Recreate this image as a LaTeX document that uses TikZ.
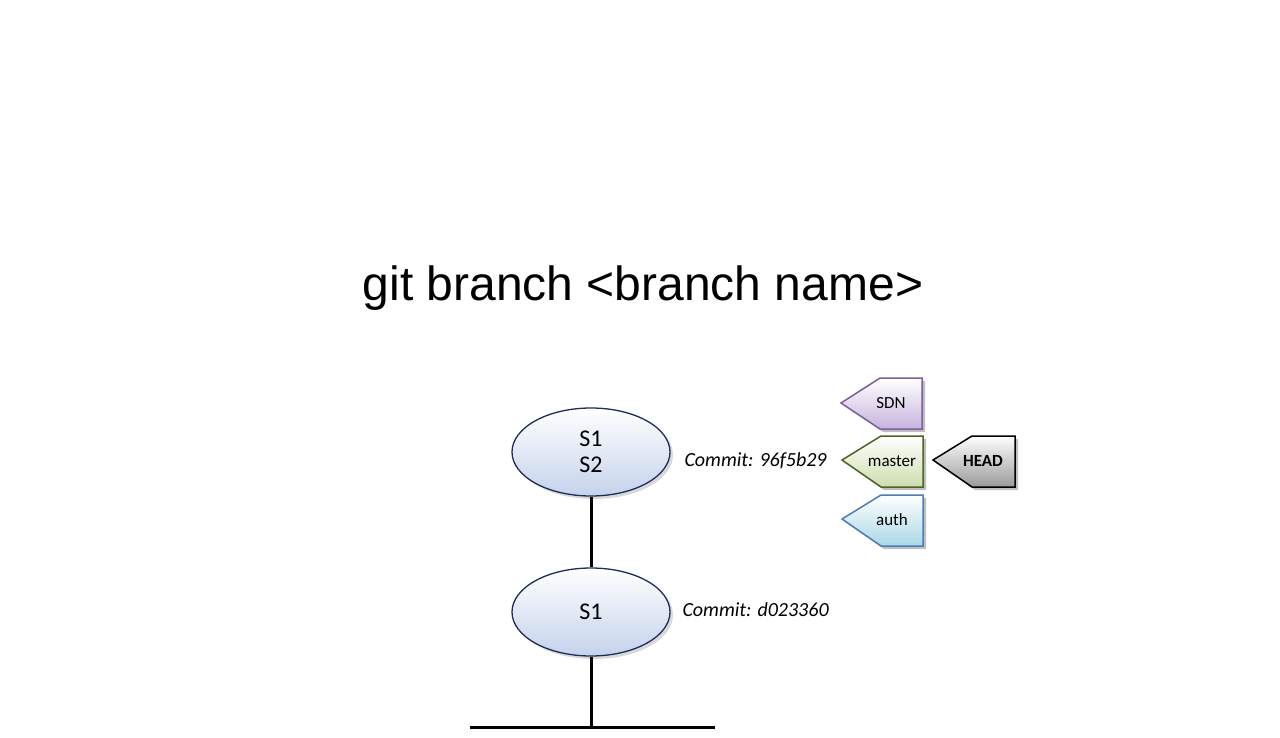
\documentclass[tikz,border=0pt]{standalone}
\usepackage{fontspec}
\setmainfont{Carlito}
\newfontfamily\titlefont{Liberation Sans}
\usetikzlibrary{shapes.geometric}
\definecolor{ellborder}{HTML}{1F2D5A}
\definecolor{ellfill}{HTML}{C5D2EC}
\definecolor{sdnborder}{HTML}{7B5E9C}
\definecolor{sdnfill}{HTML}{C7B3DE}
\definecolor{masterborder}{HTML}{4F6228}
\definecolor{masterfill}{HTML}{CDDDAE}
\definecolor{authborder}{HTML}{4A7EB5}
\definecolor{authfill}{HTML}{A9D8E6}
\definecolor{headfill}{HTML}{9A9A9A}
\tikzset{
  commit/.style={ellipse, draw=ellborder, line width=1.3pt, minimum width=158pt, minimum height=88pt,
    top color=white, bottom color=ellfill, font=\fontsize{24}{26}\selectfont, align=center, inner sep=0pt},
  commitlabel/.style={font=\fontsize{20}{22}\selectfont\itshape, anchor=west},
  branchline/.style={line width=3pt, black},
  taglabel/.style={font=\fontsize{17}{19}\selectfont},
  tagshadow/.style={fill=black, opacity=0.25},
}
\begin{document}
\begin{tikzpicture}[x=1pt,y=-1pt]
\useasboundingbox[fill=white] (0,0) rectangle (1280,738);
% title
\node[font=\titlefont\fontsize{48}{48}\selectfont, anchor=base] (title) at (643,300) {git branch <branch name>};
% base line
\coordinate (bl) at (470,727);
\coordinate (br) at (715,727);
\coordinate (bm) at (591,727);
\draw[branchline] (bl) -- (br);
% commits
\fill[black, opacity=0.15] (594,455) ellipse (79pt and 44pt);
\node[commit] (c2) at (591,452) {S1\\S2};
\fill[black, opacity=0.15] (594,615) ellipse (79pt and 44pt);
\node[commit] (c1) at (591,612) {S1};
\draw[branchline] (c2.south) -- (c1.north);
\draw[branchline] (c1.south) -- (bm);
\node[commitlabel] (l2) at (681,461) {Commit: 96f5b29};
\node[commitlabel] (l1) at (679,610) {Commit: d023360};
% tags
% SDN
\fill[tagshadow] (925,381) -- (925,432) -- (883,432) -- (844,406) -- (883,381) -- cycle;
\shade[top color=white, bottom color=sdnfill, draw=sdnborder, line width=1.5pt]
  (922,378) -- (922,429) -- (880,429) -- (841,403) -- (880,378) -- cycle;
\node[taglabel] (sdn) at (891,403) {SDN};
% master
\fill[tagshadow] (926,439) -- (926,490) -- (884,490) -- (845,463) -- (884,439) -- cycle;
\shade[top color=white, bottom color=masterfill, draw=masterborder, line width=1.5pt]
  (923,436) -- (923,487) -- (881,487) -- (842,460) -- (881,436) -- cycle;
\node[taglabel] (master) at (892,461) {master};
% auth
\fill[tagshadow] (926,498) -- (926,549) -- (884,549) -- (845,522) -- (884,498) -- cycle;
\shade[top color=white, bottom color=authfill, draw=authborder, line width=1.5pt]
  (923,495) -- (923,546) -- (881,546) -- (842,519) -- (881,495) -- cycle;
\node[taglabel] (auth) at (892,520) {auth};
% HEAD
\fill[tagshadow] (1018,439) -- (1018,490) -- (975,490) -- (936,463) -- (975,439) -- cycle;
\shade[top color=white, bottom color=headfill, draw=black, line width=1.5pt]
  (1015,436) -- (1015,487) -- (972,487) -- (933,460) -- (972,436) -- cycle;
\node[taglabel, font=\fontsize{17}{19}\selectfont\bfseries] (head) at (983,461) {HEAD};
\end{tikzpicture}
\end{document}
